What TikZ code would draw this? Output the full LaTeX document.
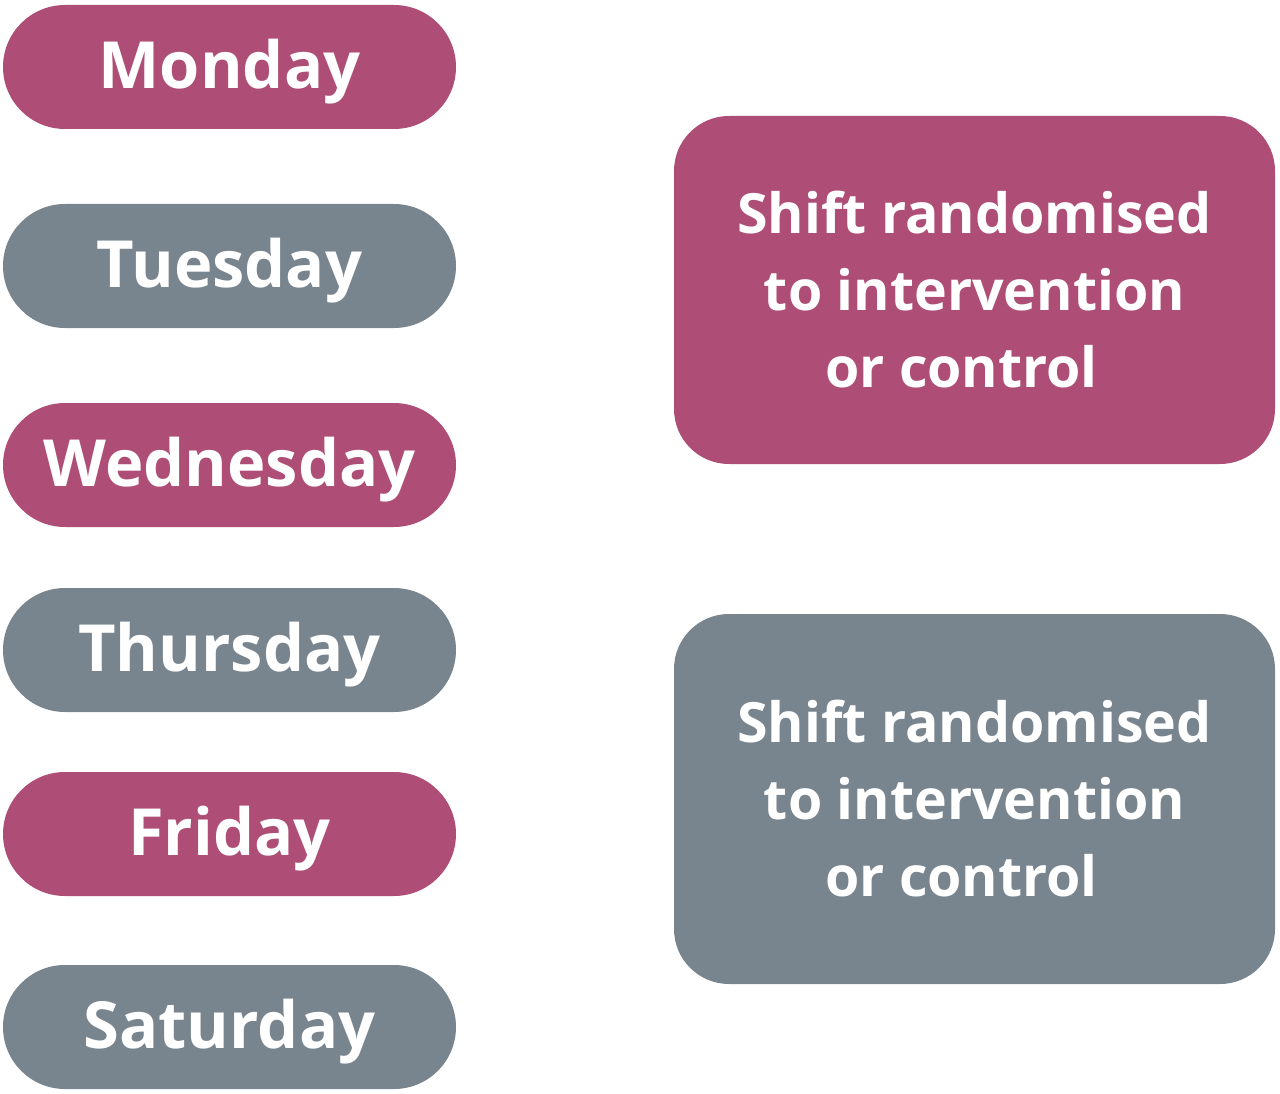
\documentclass[tikz,border=0pt]{standalone}
\usepackage{fontspec}
\setmainfont{Open Sans}
\definecolor{rose}{HTML}{AE4E76}
\definecolor{slate}{HTML}{78848E}
\newcommand{\pilltext}[1]{\raisebox{-5pt}[\height][\depth]{#1}}
\begin{document}
\begin{tikzpicture}[x=1pt,y=-1pt,
  pill/.style={rounded corners=62pt, minimum width=453pt, minimum height=124pt, inner sep=0pt,
    text=white, font=\fontsize{65}{76}\selectfont\bfseries},
  bigbox/.style={rounded corners=55pt, minimum width=601pt, inner sep=0pt,
    text=white, align=center, font=\fontsize{55.5}{77}\selectfont\bfseries}]
\useasboundingbox (0,0) rectangle (1280,1094);
\node[pill, fill=rose]  (mon) at (229.5,67)   {\pilltext{Monday}};
\node[pill, fill=slate] (tue) at (229.5,266)  {\pilltext{Tuesday}};
\node[pill, fill=rose]  (wed) at (229.5,465)  {\pilltext{Wednesday}};
\node[pill, fill=slate] (thu) at (229.5,650)  {\pilltext{Thursday}};
\node[pill, fill=rose]  (fri) at (229.5,834)  {\pilltext{Friday}};
\node[pill, fill=slate] (sat) at (229.5,1027) {\pilltext{Saturday}};
\node[bigbox, fill=rose, minimum height=348pt]  (top) at (974.5,290) {Shift randomised\\to intervention\hspace*{20pt}\\or control\hspace*{26pt}};
\node[bigbox, fill=slate, minimum height=370pt] (bot) at (974.5,799) {Shift randomised\\to intervention\hspace*{20pt}\\or control\hspace*{26pt}};
\end{tikzpicture}
\end{document}
